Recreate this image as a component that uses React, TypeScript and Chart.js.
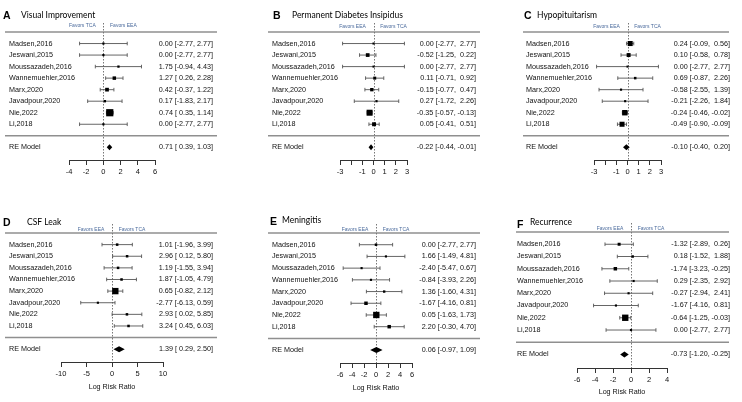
import { useEffect, useRef } from "react";
import { Chart, registerables } from "chart.js";

Chart.register(...registerables);

const studies = [
  "Madsen,2016",
  "Jeswani,2015",
  "Moussazadeh,2016",
  "Wannemuehler,2016",
  "Marx,2020",
  "Javadpour,2020",
  "Nie,2022",
  "Li,2018",
];

// A – Visual Improvement
const visualEst = [0.0, 0.0, 1.75, 1.27, 0.42, 0.17, 0.74, 0.0];
const visualLow = [-2.77, -2.77, -0.94, 0.26, -0.37, -1.83, 0.35, -2.77];
const visualHigh = [2.77, 2.77, 4.43, 2.28, 1.22, 2.17, 1.14, 2.77];
const visualWeight = [3, 3, 4, 14, 16, 5, 45, 3];
const visualRE = [0.71, 0.39, 1.03];
const visualTicks = [-4, -2, 0, 2, 4, 6];

// B – Permanent Diabetes Insipidus
const diEst = [0.0, -0.52, 0.0, 0.11, -0.15, 0.27, -0.35, 0.05];
const diLow = [-2.77, -1.25, -2.77, -0.71, -0.77, -1.72, -0.57, -0.41];
const diHigh = [2.77, 0.22, 2.77, 0.92, 0.47, 2.26, -0.13, 0.51];
const diWeight = [2, 16, 2, 10, 13, 3, 35, 18];
const diRE = [-0.22, -0.44, -0.01];
const diTicks = [-3, -2, -1, 0, 1, 2, 3];

// C – Hypopituitarism
const hypoEst = [0.24, 0.1, 0.0, 0.69, -0.58, -0.21, -0.24, -0.49];
const hypoLow = [-0.09, -0.58, -2.77, -0.87, -2.55, -2.26, -0.46, -0.9];
const hypoHigh = [0.56, 0.78, 2.77, 2.26, 1.39, 1.84, -0.02, -0.09];
const hypoWeight = [27, 18, 2, 6, 3, 3, 30, 27];
const hypoRE = [-0.1, -0.4, 0.2];
const hypoTicks = [-3, -2, -1, 0, 1, 2, 3];

// D – CSF Leak
const csfEst = [1.01, 2.96, 1.19, 1.87, 0.65, -2.77, 2.93, 3.24];
const csfLow = [-1.96, 0.12, -1.55, -1.05, -0.82, -6.13, 0.02, 0.45];
const csfHigh = [3.99, 5.8, 3.94, 4.79, 2.12, 0.59, 5.85, 6.03];
const csfWeight = [6, 6, 6, 6, 38, 3, 6, 6];
const csfRE = [1.39, 0.29, 2.5];
const csfTicks = [-10, -5, 0, 5, 10];

// E – Meningitis
const menEst = [0.0, 1.66, -2.4, -0.84, 1.36, -1.67, 0.05, 2.2];
const menLow = [-2.77, -1.49, -5.47, -3.93, -1.6, -4.16, -1.63, -0.3];
const menHigh = [2.77, 4.81, 0.67, 2.26, 4.31, 0.81, 1.73, 4.7];
const menWeight = [6, 3, 3, 3, 5, 14, 38, 14];
const menRE = [0.06, -0.97, 1.09];
const menTicks = [-6, -4, -2, 0, 2, 4, 6];

// F – Recurrence
const recEst = [-1.32, 0.18, -1.74, 0.29, -0.27, -1.67, -0.64, 0.0];
const recLow = [-2.89, -1.52, -3.23, -2.35, -2.94, -4.16, -1.25, -2.77];
const recHigh = [0.26, 1.88, -0.25, 2.92, 2.41, 0.81, -0.03, 2.77];
const recWeight = [10, 6, 14, 3, 3, 3, 38, 3];
const recRE = [-0.73, -1.2, -0.25];
const recTicks = [-6, -4, -2, 0, 2, 4];

const SANS = "'Liberation Sans', Arial, sans-serif";

type Panel = {
  letter: string;
  title: string;
  est: number[];
  low: number[];
  high: number[];
  weight: number[];
  re: number[];
  ticks: number[];
  hidden: number[];
  favL: string;
  favR: string;
  box: number[];
  letterX: number;
  letterY: number;
  titleX: number;
  titleY: number;
  labelX: number;
  textRight: number;
  lineL: number;
  lineR: number;
  plotL: number;
  plotR: number;
  headerY: number;
  axisY: number;
  favorsY: number;
  xTitleY: number | null;
};

const panels: Panel[] = [
  {
    letter: "A", title: "Visual Improvement",
    est: visualEst, low: visualLow, high: visualHigh, weight: visualWeight, re: visualRE,
    ticks: visualTicks, hidden: [], favL: "Favors TCA", favR: "Favors EEA",
    box: [0, 0, 245, 200], letterX: 3, letterY: 16, titleX: 21, titleY: 15.5,
    labelX: 9, textRight: 213, lineL: 5, lineR: 217, plotL: 69, plotR: 155,
    headerY: 32, axisY: 160, favorsY: 26, xTitleY: null,
  },
  {
    letter: "B", title: "Permanent Diabetes Insipidus",
    est: diEst, low: diLow, high: diHigh, weight: diWeight, re: diRE,
    ticks: diTicks, hidden: [-2], favL: "Favors EEA", favR: "Favors TCA",
    box: [245, 0, 245, 200], letterX: 273, letterY: 16, titleX: 292, titleY: 15.5,
    labelX: 272, textRight: 476, lineL: 268, lineR: 480, plotL: 340, plotR: 407,
    headerY: 32, axisY: 160, favorsY: 27, xTitleY: null,
  },
  {
    letter: "C", title: "Hypopituitarism",
    est: hypoEst, low: hypoLow, high: hypoHigh, weight: hypoWeight, re: hypoRE,
    ticks: hypoTicks, hidden: [-2], favL: "Favors EEA", favR: "Favors TCA",
    box: [490, 0, 252, 200], letterX: 524, letterY: 16, titleX: 537, titleY: 15.5,
    labelX: 526, textRight: 730, lineL: 523, lineR: 729, plotL: 594, plotR: 661,
    headerY: 32, axisY: 160, favorsY: 27, xTitleY: null,
  },
  {
    letter: "D", title: "CSF Leak",
    est: csfEst, low: csfLow, high: csfHigh, weight: csfWeight, re: csfRE,
    ticks: csfTicks, hidden: [], favL: "Favors EEA", favR: "Favors TCA",
    box: [0, 200, 245, 202], letterX: 3, letterY: 223, titleX: 27, titleY: 222,
    labelX: 9, textRight: 213, lineL: 5, lineR: 217, plotL: 61, plotR: 163,
    headerY: 233, axisY: 362, favorsY: 230, xTitleY: 387,
  },
  {
    letter: "E", title: "Meningitis",
    est: menEst, low: menLow, high: menHigh, weight: menWeight, re: menRE,
    ticks: menTicks, hidden: [], favL: "Favors EEA", favR: "Favors TCA",
    box: [245, 200, 245, 202], letterX: 270, letterY: 222, titleX: 282, titleY: 220.5,
    labelX: 272, textRight: 476, lineL: 268, lineR: 480, plotL: 340, plotR: 412,
    headerY: 233, axisY: 363, favorsY: 230, xTitleY: 388,
  },
  {
    letter: "F", title: "Recurrence",
    est: recEst, low: recLow, high: recHigh, weight: recWeight, re: recRE,
    ticks: recTicks, hidden: [], favL: "Favors EEA", favR: "Favors TCA",
    box: [490, 200, 252, 202], letterX: 517, letterY: 225, titleX: 530, titleY: 222.5,
    labelX: 517, textRight: 730, lineL: 516, lineR: 729, plotL: 577, plotR: 667,
    headerY: 232, axisY: 368, favorsY: 229, xTitleY: 392,
  },
];

function sideFromWeight(w: number) {
  return 1.8 + w * 0.12;
}

function ciStrings(p: Panel) {
  const rows = p.est.map((e, i) => [e, p.low[i], p.high[i]]);
  rows.push(p.re);
  const cols = [0, 1, 2].map((c) => rows.map((r) => r[c].toFixed(2)));
  const w = cols.map((col) => Math.max(...col.map((s) => s.length)));
  return rows.map(
    (_, i) =>
      `${cols[0][i].padStart(w[0])} [${cols[1][i].padStart(w[1])}, ${cols[2][i].padStart(w[2])}]`
  );
}

const forestPlugin = {
  id: "forest",
  beforeDatasetsDraw(chart: any) {
    const p: Panel = chart.options.plugins.forest.panel;
    const ctx: CanvasRenderingContext2D = chart.ctx;
    const xs = chart.scales.x;
    const ys = chart.scales.y;
    const ox = p.box[0];
    ctx.save();
    // header and separator lines
    ctx.strokeStyle = "#8f8f8f";
    ctx.lineWidth = 1.5;
    [ys.getPixelForValue(-1), ys.getPixelForValue(8)].forEach((y: number) => {
      ctx.beginPath();
      ctx.moveTo(p.lineL - ox, y);
      ctx.lineTo(p.lineR - ox, y);
      ctx.stroke();
    });
    // zero reference line
    const x0 = Math.round(xs.getPixelForValue(0)) + 0.5;
    ctx.setLineDash([1.5, 1.5]);
    ctx.strokeStyle = "#777";
    ctx.lineWidth = 1;
    ctx.beginPath();
    ctx.moveTo(x0, ys.getPixelForValue(-1) - 9);
    ctx.lineTo(x0, chart.chartArea.bottom);
    ctx.stroke();
    ctx.setLineDash([]);
    // confidence intervals
    ctx.strokeStyle = "#555";
    ctx.lineWidth = 0.9;
    p.est.forEach((_, i) => {
      const y = ys.getPixelForValue(i);
      const a = xs.getPixelForValue(p.low[i]);
      const b = xs.getPixelForValue(p.high[i]);
      ctx.beginPath();
      ctx.moveTo(a, y);
      ctx.lineTo(b, y);
      ctx.moveTo(a, y - 1.8);
      ctx.lineTo(a, y + 1.8);
      ctx.moveTo(b, y - 1.8);
      ctx.lineTo(b, y + 1.8);
      ctx.stroke();
    });
    ctx.restore();
  },
  afterDatasetsDraw(chart: any) {
    const p: Panel = chart.options.plugins.forest.panel;
    const ctx: CanvasRenderingContext2D = chart.ctx;
    const xs = chart.scales.x;
    const ys = chart.scales.y;
    const ox = p.box[0];
    const oy = p.box[1];
    ctx.save();
    // RE diamond
    const yr = ys.getPixelForValue(9);
    ctx.fillStyle = "#000";
    ctx.beginPath();
    ctx.moveTo(xs.getPixelForValue(p.re[1]), yr);
    ctx.lineTo(xs.getPixelForValue(p.re[0]), yr - 3);
    ctx.lineTo(xs.getPixelForValue(p.re[2]), yr);
    ctx.lineTo(xs.getPixelForValue(p.re[0]), yr + 3);
    ctx.closePath();
    ctx.fill();

    ctx.textBaseline = "middle";
    // panel letter
    ctx.fillStyle = "#000";
    ctx.textAlign = "left";
    ctx.font = `bold 10.5px ${SANS}`;
    ctx.fillText(p.letter, p.letterX - ox, p.letterY - oy);
    ctx.font = `8.5px Lato, 'Open Sans', sans-serif`;
    ctx.fillText(p.title, p.titleX - ox, p.titleY - oy);

    // favors labels
    const x0 = xs.getPixelForValue(0);
    ctx.font = `5px ${SANS}`;
    ctx.fillStyle = "#4a6a9c";
    ctx.textAlign = "center";
    ctx.fillText(p.favL, x0 - 21, p.favorsY - oy);
    ctx.fillText(p.favR, x0 + 20, p.favorsY - oy);

    // study labels and CI text
    const ci = ciStrings(p);
    ctx.font = `7.2px ${SANS}`;
    ctx.fillStyle = "#111";
    studies.forEach((s, i) => {
      const y = ys.getPixelForValue(i);
      ctx.textAlign = "left";
      ctx.fillText(s, p.labelX - ox, y);
      ctx.textAlign = "right";
      ctx.fillText(ci[i], p.textRight - ox, y);
    });
    ctx.textAlign = "left";
    ctx.fillText("RE Model", p.labelX - ox, yr);
    ctx.textAlign = "right";
    ctx.fillText(ci[8], p.textRight - ox, yr);
    ctx.restore();
  },
};

function ForestPanel({ p }: { p: Panel }) {
  const ref = useRef<HTMLCanvasElement>(null);
  const [bx, by, bw, bh] = p.box;
  useEffect(() => {
    if (!ref.current) return;
    const scaleHeight = bh - (p.axisY - by);
    const titleLine = 7.2 * 1.2;
    const titlePadBottom = p.xTitleY != null ? bh - (p.xTitleY - by) - titleLine / 2 : 0;
    const chart = new Chart(ref.current, {
      type: "scatter",
      data: {
        datasets: [
          {
            data: p.est.map((e, i) => ({ x: e, y: i })),
            pointStyle: "rect",
            pointRadius: p.weight.map((w) => sideFromWeight(w) / Math.SQRT2),
            pointHoverRadius: p.weight.map((w) => sideFromWeight(w) / Math.SQRT2),
            backgroundColor: "#000",
            borderColor: "#000",
            borderWidth: 0,
            clip: false,
          } as any,
        ],
      },
      options: {
        responsive: false,
        animation: false,
        devicePixelRatio: 1,
        events: [],
        layout: {
          padding: { left: p.plotL - bx, right: bx + bw - p.plotR, top: p.headerY - by, bottom: 0 },
        },
        scales: {
          x: {
            type: "linear",
            min: p.ticks[0],
            max: p.ticks[p.ticks.length - 1],
            afterBuildTicks: (scale: any) => {
              scale.ticks = p.ticks.map((v) => ({ value: v }));
            },
            afterFit: (scale: any) => {
              scale.height = scaleHeight;
            },
            ticks: {
              autoSkip: false,
              maxRotation: 0,
              padding: 2,
              color: "#111",
              font: { size: 7.5, family: SANS },
              callback: (v: any) => (p.hidden.includes(Number(v)) ? "" : String(v)),
            },
            grid: { drawOnChartArea: false, drawTicks: true, tickLength: 5, color: "#333", lineWidth: 1 },
            border: { display: true, color: "#333", width: 1 },
            title: {
              display: p.xTitleY != null,
              text: "Log Risk Ratio",
              color: "#111",
              font: { size: 7.2, family: SANS },
              padding: { top: 0, bottom: titlePadBottom },
            },
          },
          y: { type: "linear", display: false, reverse: true, min: -1, max: 10.1 },
        },
        plugins: {
          legend: { display: false },
          tooltip: { enabled: false },
          forest: { panel: p },
        } as any,
      },
      plugins: [forestPlugin],
    });
    return () => chart.destroy();
  }, []);
  return (
    <canvas
      ref={ref}
      width={bw}
      height={bh}
      style={{ position: "absolute", left: bx, top: by, width: bw, height: bh }}
    />
  );
}

export default function App() {
  return (
    <div style={{ position: "absolute", left: 0, top: 0, width: 742, height: 402, background: "#fff" }}>
      {panels.map((p) => (
        <ForestPanel key={p.letter} p={p} />
      ))}
    </div>
  );
}
